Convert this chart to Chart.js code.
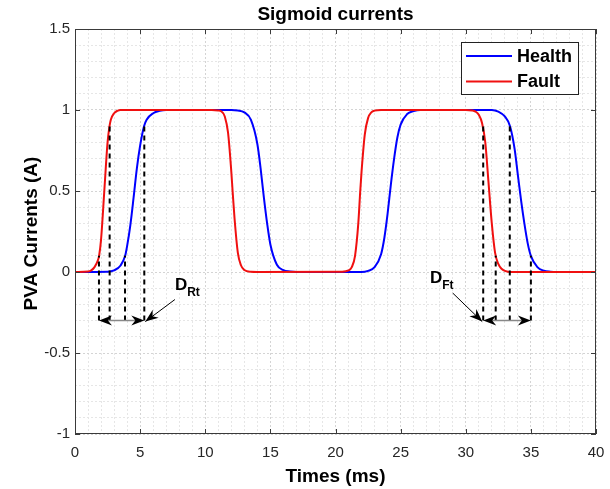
<!DOCTYPE html>
<html>
<head>
<meta charset="utf-8">
<script src="https://cdn.jsdelivr.net/npm/chart.js@4.4.0/dist/chart.umd.min.js"></script>
<style>
  html, body { margin: 0; padding: 0; background: #fff; }
  canvas { display: block; }
</style>
</head>
<body>
<canvas id="sigmoidChart" width="610" height="489"></canvas>
<script>
// Health current (ms, A)
const healthT = [0, 2.5, 3.0, 3.5, 3.85, 4.0, 4.25, 4.5, 4.75, 5.0, 5.3, 5.5, 6.0, 6.5, 7.0,
    12.0, 12.5, 13.0, 13.5, 14.0, 14.25, 14.5, 14.75, 15.0, 15.5, 16.0, 16.5, 17.0,
    22.0, 22.5, 23.0, 23.5, 23.75, 24.0, 24.25, 24.5, 24.75, 25.0, 25.5, 26.0, 26.5,
    32.0, 32.5, 33.0, 33.4, 33.75, 34.0, 34.25, 34.5, 34.75, 35.0, 35.5, 36.0, 36.5, 37.0, 40];
const healthI = [0, 0.002, 0.01, 0.04, 0.1, 0.16, 0.29, 0.46, 0.64, 0.78, 0.9, 0.94, 0.98, 0.995, 1,
    1, 0.997, 0.985, 0.94, 0.79, 0.64, 0.46, 0.3, 0.17, 0.045, 0.011, 0.003, 0,
    0, 0.007, 0.03, 0.11, 0.21, 0.36, 0.54, 0.7, 0.83, 0.91, 0.975, 0.993, 1,
    1, 0.99, 0.96, 0.9, 0.76, 0.6, 0.44, 0.3, 0.18, 0.1, 0.03, 0.008, 0.002, 0, 0];

// Fault current
const faultT = [0, 1.0, 1.25, 1.5, 1.75, 1.85, 2.0, 2.25, 2.5, 2.65, 2.75, 3.0, 3.25, 3.5,
    10.5, 11.0, 11.25, 11.5, 11.75, 12.0, 12.1, 12.25, 12.5, 12.75, 13.0, 13.5, 14.0,
    20.5, 21.0, 21.25, 21.5, 21.75, 21.9, 22.0, 22.25, 22.5, 22.75, 23.0, 23.5,
    30.0, 30.5, 30.75, 31.0, 31.25, 31.5, 31.75, 32.0, 32.25, 32.5, 32.75, 33.0, 33.5, 40];
const faultI = [0, 0.003, 0.01, 0.03, 0.07, 0.1, 0.2, 0.5, 0.8, 0.9, 0.94, 0.98, 0.995, 1,
    1, 0.997, 0.99, 0.96, 0.86, 0.62, 0.5, 0.33, 0.12, 0.04, 0.012, 0.001, 0,
    0.002, 0.01, 0.03, 0.1, 0.3, 0.5, 0.62, 0.85, 0.95, 0.985, 0.996, 1,
    1, 0.997, 0.99, 0.97, 0.92, 0.8, 0.55, 0.3, 0.12, 0.05, 0.02, 0.007, 0, 0];

// Dashed marker lines (10% / 90% crossings) and the delay arrows
const riseMarkT = [1.84, 2.66, 3.84, 5.32];
const riseMarkTop = [0.1, 0.9, 0.1, 0.9];
const fallMarkT = [31.34, 32.3, 33.38, 35.0];
const fallMarkTop = [0.9, 0.1, 0.9, 0.1];
const markBase = -0.3;

const xTickLabels = [0, 5, 10, 15, 20, 25, 30, 35, 40];
const yTickLabels = [-1, -0.5, 0, 0.5, 1, 1.5];

const seriesNames = ['Health', 'Fault'];
const seriesColors = ['#0000ff', '#f01010'];

const toPoints = (xs, ys) => xs.map((x, i) => ({ x: x, y: ys[i] }));

const datasets = [
    {
        label: seriesNames[0], data: toPoints(healthT, healthI),
        borderColor: seriesColors[0], borderWidth: 2, pointRadius: 0,
        cubicInterpolationMode: 'monotone', order: 2
    },
    {
        label: seriesNames[1], data: toPoints(faultT, faultI),
        borderColor: seriesColors[1], borderWidth: 2, pointRadius: 0,
        cubicInterpolationMode: 'monotone', order: 1
    }
];

const FONT = '"Liberation Sans", Arial, sans-serif';
const AXIS = '#3a3a3a';

function arrowHead(ctx, tx, ty, ang, len, half) {
    const dx = Math.cos(ang), dy = Math.sin(ang);
    const px = -dy, py = dx;
    ctx.beginPath();
    ctx.moveTo(tx, ty);
    ctx.lineTo(tx - len * dx + half * px, ty - len * dy + half * py);
    ctx.lineTo(tx - (len - 4) * dx, ty - (len - 4) * dy);
    ctx.lineTo(tx - len * dx - half * px, ty - len * dy - half * py);
    ctx.closePath();
    ctx.fill();
}

function doubleArrow(ctx, x1, x2, y) {
    ctx.strokeStyle = '#888';
    ctx.lineWidth = 1.5;
    ctx.beginPath();
    ctx.moveTo(x1 + 6, y);
    ctx.lineTo(x2 - 6, y);
    ctx.stroke();
    ctx.fillStyle = '#000';
    arrowHead(ctx, x1, y, Math.PI, 13, 5);
    arrowHead(ctx, x2, y, 0, 13, 5);
}

function pointer(ctx, x1, y1, x2, y2) {
    ctx.strokeStyle = '#000';
    ctx.lineWidth = 1;
    ctx.beginPath();
    ctx.moveTo(x1, y1);
    ctx.lineTo(x2, y2);
    ctx.stroke();
    ctx.fillStyle = '#000';
    arrowHead(ctx, x2, y2, Math.atan2(y2 - y1, x2 - x1), 13, 5);
}

function subLabel(ctx, x, y, main, sub) {
    ctx.fillStyle = '#000';
    ctx.textAlign = 'left';
    ctx.textBaseline = 'alphabetic';
    ctx.font = 'bold 17px ' + FONT;
    ctx.fillText(main, x, y);
    const w = ctx.measureText(main).width;
    ctx.font = 'bold 12px ' + FONT;
    ctx.fillText(sub, x + w, y + 6);
}

const decorations = {
    id: 'decorations',
    afterDatasetsDraw(chart) {
        const ctx = chart.ctx;
        const a = chart.chartArea;
        const xs = chart.scales.x, ys = chart.scales.y;
        ctx.save();

        // axes box and inward major ticks
        ctx.strokeStyle = AXIS;
        ctx.lineWidth = 1;
        ctx.strokeRect(a.left + 0.5, a.top + 0.5, a.right - a.left - 1, a.bottom - a.top - 1);
        ctx.beginPath();
        xTickLabels.forEach(v => {
            const px = Math.round(xs.getPixelForValue(v)) + 0.5;
            ctx.moveTo(px, a.bottom); ctx.lineTo(px, a.bottom - 5);
            ctx.moveTo(px, a.top); ctx.lineTo(px, a.top + 5);
        });
        yTickLabels.forEach(v => {
            const py = Math.round(ys.getPixelForValue(v)) + 0.5;
            ctx.moveTo(a.left, py); ctx.lineTo(a.left + 5, py);
            ctx.moveTo(a.right, py); ctx.lineTo(a.right - 5, py);
        });
        ctx.stroke();

        // dashed crossing markers
        ctx.strokeStyle = '#000';
        ctx.lineWidth = 2;
        ctx.setLineDash([5, 4]);
        const yb = ys.getPixelForValue(markBase);
        riseMarkT.concat(fallMarkT).forEach((t, i) => {
            const top = riseMarkTop.concat(fallMarkTop)[i];
            const px = xs.getPixelForValue(t);
            ctx.beginPath();
            ctx.moveTo(px, yb);
            ctx.lineTo(px, ys.getPixelForValue(top));
            ctx.stroke();
        });
        ctx.setLineDash([]);

        // delay arrows
        doubleArrow(ctx, xs.getPixelForValue(riseMarkT[0]), xs.getPixelForValue(riseMarkT[3]), yb);
        doubleArrow(ctx, xs.getPixelForValue(fallMarkT[0]), xs.getPixelForValue(fallMarkT[3]), yb);
        pointer(ctx, xs.getPixelForValue(7.67), ys.getPixelForValue(-0.17),
            xs.getPixelForValue(riseMarkT[3]) + 1, yb + 1);
        pointer(ctx, xs.getPixelForValue(29.0), ys.getPixelForValue(-0.13),
            xs.getPixelForValue(fallMarkT[0]) - 1, yb + 1);
        subLabel(ctx, xs.getPixelForValue(7.67), ys.getPixelForValue(-0.11), 'D', 'Rt');
        subLabel(ctx, xs.getPixelForValue(27.25), ys.getPixelForValue(-0.068), 'D', 'Ft');

        // legend
        const lx = a.right - 135, ly = a.top + 13, lw = 117, lh = 52;
        ctx.fillStyle = '#fff';
        ctx.fillRect(lx, ly, lw, lh);
        ctx.strokeStyle = '#222';
        ctx.lineWidth = 1;
        ctx.strokeRect(lx + 0.5, ly + 0.5, lw, lh);
        seriesNames.forEach((name, i) => {
            const yy = ly + 14 + i * 25.5;
            ctx.strokeStyle = seriesColors[i];
            ctx.lineWidth = 2;
            ctx.beginPath();
            ctx.moveTo(lx + 5, yy);
            ctx.lineTo(lx + 51, yy);
            ctx.stroke();
            ctx.fillStyle = '#000';
            ctx.font = 'bold 18px ' + FONT;
            ctx.textAlign = 'left';
            ctx.textBaseline = 'middle';
            ctx.fillText(name, lx + 56, yy + 1);
        });

        // title and axis titles
        ctx.fillStyle = '#000';
        ctx.font = 'bold 19px ' + FONT;
        ctx.textAlign = 'center';
        ctx.textBaseline = 'middle';
        ctx.fillText('Sigmoid currents', (a.left + a.right) / 2, 15);
        ctx.fillText('Times (ms)', (a.left + a.right) / 2, 477);
        ctx.translate(32, (a.top + a.bottom) / 2 + 2);
        ctx.rotate(-Math.PI / 2);
        ctx.fillText('PVA Currents (A)', 0, 0);
        ctx.restore();
    }
};

const isMajor = (v, step) => Math.abs(v / step - Math.round(v / step)) < 1e-6;

const ctx = document.getElementById('sigmoidChart').getContext('2d');
const sigmoidChart = new Chart(ctx, {
    type: 'line',
    data: { datasets: datasets },
    options: {
        responsive: false,
        animation: false,
        layout: { padding: { top: 29, right: 14, left: 0, bottom: 0 } },
        plugins: { legend: { display: false }, tooltip: { enabled: false } },
        scales: {
            x: {
                type: 'linear', min: 0, max: 40,
                afterFit: s => { s.height = 55; s.paddingLeft = 0; s.paddingRight = 0; },
                ticks: {
                    stepSize: 1, autoSkip: false, maxRotation: 0, padding: 10,
                    color: '#262626', font: { family: FONT, size: 15 },
                    callback: v => xTickLabels.includes(v) ? String(v) : ''
                },
                grid: {
                    drawTicks: false,
                    color: c => isMajor(c.tick.value, 5) ? '#d4d4d4' : '#e6e6e6'
                },
                border: { display: false, dash: [2, 2] }
            },
            y: {
                type: 'linear', min: -1, max: 1.5,
                afterFit: s => { s.width = 75; s.paddingTop = 0; s.paddingBottom = 0; },
                ticks: {
                    stepSize: 0.1, autoSkip: false, padding: 5,
                    color: '#262626', font: { family: FONT, size: 15 },
                    callback: v => {
                        const r = parseFloat(v.toFixed(1));
                        return yTickLabels.some(t => Math.abs(t - r) < 1e-6) && isMajor(v, 0.5) ? String(r) : '';
                    }
                },
                grid: {
                    drawTicks: false,
                    color: c => isMajor(c.tick.value, 0.5) ? '#d4d4d4' : '#e6e6e6'
                },
                border: { display: false, dash: [2, 2] }
            }
        }
    },
    plugins: [decorations]
});
</script>
</body>
</html>
